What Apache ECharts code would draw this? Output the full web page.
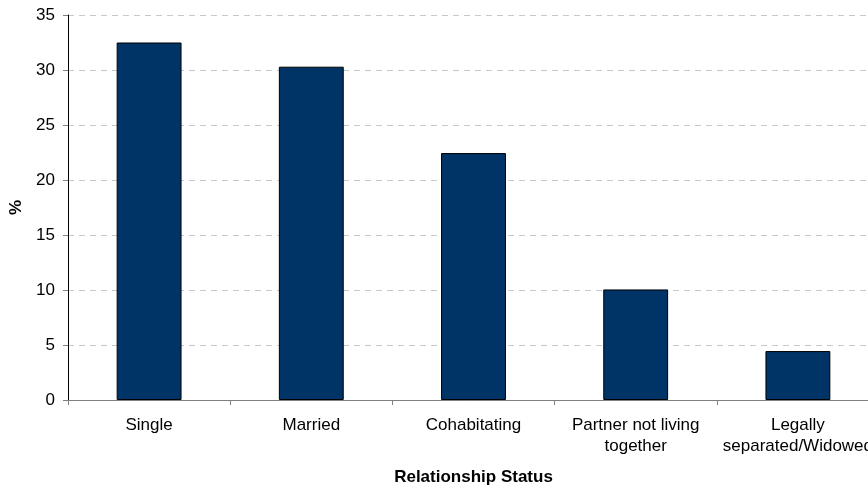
<!DOCTYPE html>
<html><head><meta charset="utf-8">
<script src="https://cdn.jsdelivr.net/npm/echarts@6/dist/echarts.min.js"></script>
<style>html,body{margin:0;padding:0;background:#fff}#c{width:868px;height:488px}</style>
</head><body><div id="c"></div>
<script>
const categories = ['Single', 'Married', 'Cohabitating', 'Partner not living\ntogether', 'Legally\nseparated/Widowed'];
const values = [32.5, 30.3, 22.45, 10.05, 4.45];
const yTicks = [0, 5, 10, 15, 20, 25, 30, 35];

const FONT = 'Liberation Sans, Arial, sans-serif';
const chart = echarts.init(document.getElementById('c'));
chart.setOption({
  animation: false,
  textStyle: { fontFamily: FONT },
  grid: { left: 68, width: 811, top: 15, height: 385, containLabel: false, outerBoundsMode: 'none' },
  xAxis: {
    type: 'category',
    data: categories,
    name: 'Relationship Status',
    nameLocation: 'middle',
    nameGap: 69,
    nameTextStyle: { fontWeight: 'bold', fontSize: 17, color: '#000', fontFamily: FONT },
    axisLine: { lineStyle: { color: '#808080', width: 1 } },
    axisTick: { show: true, alignWithLabel: false, length: 5, lineStyle: { color: '#808080' } },
    axisLabel: { color: '#000', fontSize: 17, margin: 15, lineHeight: 21, interval: 0, fontFamily: FONT }
  },
  yAxis: {
    type: 'value',
    min: 0, max: 35, interval: 5,
    name: '%',
    nameLocation: 'middle',
    nameGap: 40,
    nameRotate: 90,
    nameTextStyle: { fontWeight: 'bold', fontSize: 17, color: '#000', fontFamily: FONT },
    axisLine: { show: true, lineStyle: { color: '#000', width: 1 } },
    axisTick: { show: true, length: 5, lineStyle: { color: '#808080' } },
    axisLabel: { color: '#000', fontSize: 17, margin: 13, fontFamily: FONT,
      formatter: v => yTicks.includes(v) ? String(v) : '' },
    splitLine: { show: true, lineStyle: { color: '#c8c8c8', type: [6, 5], width: 1 } }
  },
  series: [{
    type: 'bar',
    data: values,
    barWidth: '40%',
    itemStyle: { color: '#003366', borderColor: '#000', borderWidth: 1 }
  }]
});
</script></body></html>
